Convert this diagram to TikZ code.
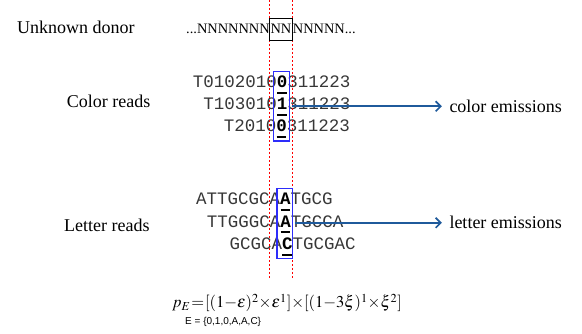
\documentclass[tikz,border=0pt]{standalone}
\usepackage{mathptmx}
\usepackage{fontspec}
\setmainfont{Liberation Serif}
\setsansfont{Liberation Sans}
\setmonofont{Liberation Mono}
\usetikzlibrary{arrows.meta}

\definecolor{pickblue}{RGB}{45,45,250}
\definecolor{arrowblue}{RGB}{31,90,155}
\definecolor{seqgray}{RGB}{55,55,55}

% bold, black character picked out of a read
\newcommand\pickch[1]{\textbf{\color{black}#1}}
% bar under the k-th (0-based) character of a monospaced read
\newcommand\ulmark[2]{\draw[ulbar] ([shift={(#2*10.5+0.5,5)}]#1.base west) -- ++(9.5,0);}

\begin{document}
\begin{tikzpicture}[x=1pt,y=-1pt,
  caption/.style={font=\fontsize{18}{20}\selectfont, inner sep=0},
  donor/.style={font=\fontsize{14.4}{16}\selectfont, inner sep=0},
  readrow/.style={font=\fontsize{17.5}{20}\ttfamily, text=seqgray, inner sep=0, anchor=base west},
  pickbox/.style={draw=pickblue, line width=1.2pt, inner sep=0, minimum width=16pt},
  ulbar/.style={black, line width=2pt},
  guide/.style={red, line width=0.9pt, dash pattern=on 2.5pt off 1.5pt},
  emit/.style={draw=arrowblue, line width=1.6pt, shorten <=2pt, shorten >=7.5pt,
    -{Straight Barb[length=5pt,width=10pt]}}]
\useasboundingbox (0,0) rectangle (582,334);

% row captions
\node[caption, anchor=base west] (tdonor) at (17,33.3) {Unknown donor};
\node[caption, anchor=base west] (tcolor) at (66.7,108) {Color reads};
\node[caption, anchor=base west] (tletter) at (64,231.7) {Letter reads};

% donor sequence
\node[donor, anchor=base east] (dleft) at (270,33.3) {...NNNNNNN};
\node[donor, anchor=base] (dmid) at (281,33.3) {NN};
\node[donor, anchor=base west] (dright) at (292.7,33.3) {NNNNN...};

% colour-space reads
\node[readrow] (c1) at (192.7,87.7) {T0102010\pickch{0}311223};
\node[readrow] (c2) at (203.2,110) {T103010\pickch{1}311223};
\node[readrow] (c3) at (223.7,131.7) {T2010\pickch{0}311223};
\ulmark{c1}{8}
\ulmark{c2}{7}
\ulmark{c3}{5}

% letter-space reads
\node[readrow] (l1) at (196,205) {ATTGCGCA\pickch{A}TGCG};
\node[readrow] (l2) at (206.7,227.3) {TTGGGCA\pickch{A}TGCCA};
\node[readrow] (l3) at (229.3,250) {GCGCA\pickch{C}TGCGAC};
\ulmark{l1}{8}
\ulmark{l2}{7}
\ulmark{l3}{5}

% column guides
\coordinate (gLt) at (269.5,0);
\coordinate (gLb) at (269.5,278);
\coordinate (gRt) at (292.5,0);
\coordinate (gRb) at (292.5,278);
\draw[guide] (gLt) -- (gLb);
\draw[guide] (gRt) -- (gRb);

% selected columns
\node[draw=black, line width=1pt, inner sep=0, minimum width=22.7pt, minimum height=21.7pt] (dbox) at (281,29.8) {};
\node[pickbox, minimum height=69.3pt] (cbox) at (281.3,106.3) {};
\node[pickbox, minimum width=15.7pt, minimum height=70.4pt] (lbox) at (284.8,223.5) {};

% emissions
\node[caption, anchor=west] (cemit) at (449.3,106.3) {color emissions};
\node[caption, anchor=west] (lemit) at (449.3,222.8) {letter emissions};
\draw[emit] (cbox.east) -- (cbox.east -| cemit.west);
\draw[emit] (lbox.east |- lemit.west) -- (lemit.west);

% emission probability, set tight
\node[font=\fontsize{16.5}{18}\selectfont, inner sep=0, anchor=base] (pe) at (287,308)
  {\medmuskip=0mu\thickmuskip=1mu$p_E = [(1-\varepsilon)^2\times\varepsilon^1]\times[(1-3\xi)^1\times\xi^2]$};
\node[font=\sffamily\fontsize{10}{12}\selectfont, anchor=base west, inner sep=0] (eset) at (185,325)
  {E = \{0,1,0,A,A,C\}};
\end{tikzpicture}
\end{document}
